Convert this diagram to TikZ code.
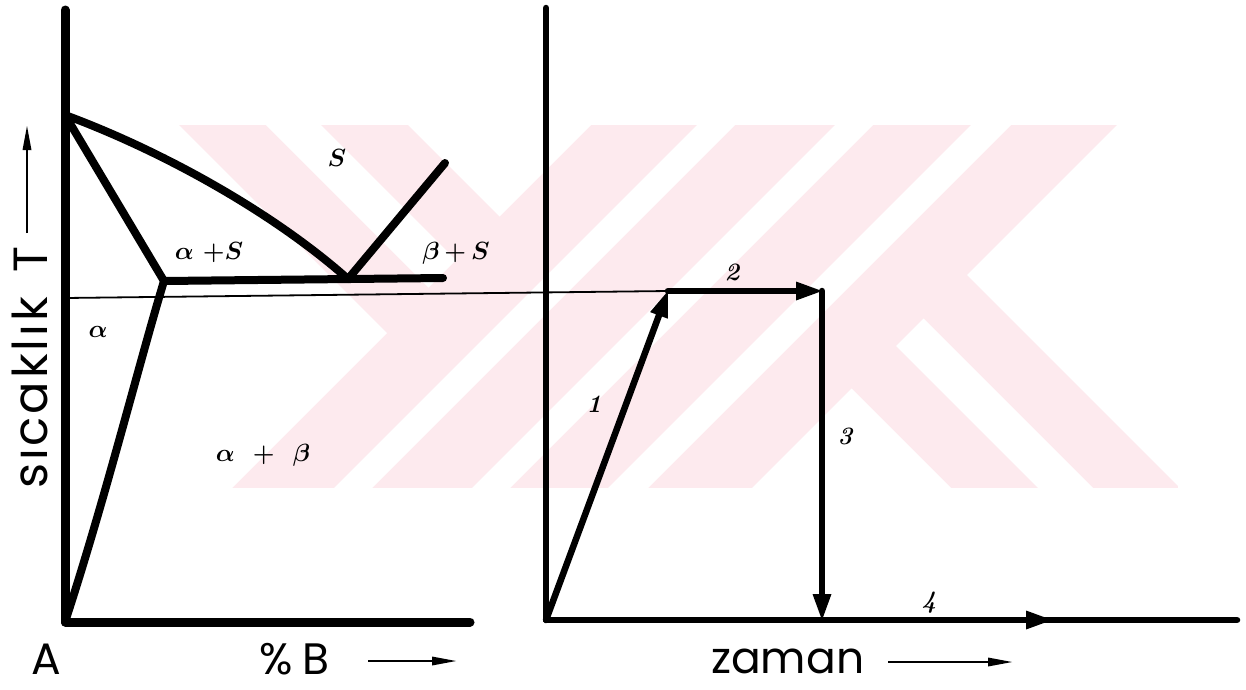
\documentclass[tikz,border=0pt]{standalone}
\usepackage{fontspec}
\newfontfamily\axfont{Poppins}
\newfontfamily\axfontwide[LetterSpace=6]{Poppins}
\usetikzlibrary{arrows.meta}
\definecolor{wmpink}{RGB}{253,234,238}
\tikzset{
  axisline/.style={line width=9pt, line cap=round, line join=round},
  axisright/.style={line width=6.5pt, line cap=round, line join=round},
  phaseline/.style={line width=8pt, line cap=round, line join=round},
  thinline/.style={line width=1.8pt},
  procarrow/.style={line width=6.5pt, line cap=round, -{Triangle[length=26pt,width=19pt,line width=0pt]}},
  labelarrow/.style={line width=2.2pt, -{Triangle[length=24pt,width=9pt,line width=0pt]}},
  phase/.style={inner sep=0pt, font=\fontsize{30}{33}\selectfont\boldmath},
  stepnum/.style={inner sep=0pt, font=\fontsize{25}{28}\selectfont\bfseries\itshape},
  axtext/.style={inner sep=0pt, font=\axfont\fontsize{44}{48}\selectfont},
  ytext/.style={inner sep=0pt, font=\axfontwide\fontsize{48}{52}\selectfont},
  wmwhite/.style={fill=white},
}
\begin{document}
\begin{tikzpicture}[x=1pt,y=-1pt]
\useasboundingbox (0,0) rectangle (1246,689);
\fill[white] (0,0) rectangle (1246,689);
% watermark
\begin{scope}
  \clip (176,125) rectangle (1178,488);
  \fill[wmpink] (176,125) rectangle (1178,488);
  % outer white regions
  \fill[wmwhite] (0,100) -- (154,100) -- (387,333) -- (210,510) -- (0,510) -- cycle;
  \fill[wmwhite] (1142,100) -- (1300,100) -- (1300,510) -- (1202,510) -- (967,275) -- cycle;
  % notches
  \fill[wmwhite] (383,100) -- (616,100) -- (499.5,216.5) -- cycle;
  \fill[wmwhite] (851.5,388.5) -- (973,510) -- (730,510) -- cycle;
  % short stripes
  \fill[wmwhite] (241,100) -- (296,100) -- (456,260) -- (428.5,287.5) -- cycle;
  \fill[wmwhite] (896,346) -- (923.5,318.5) -- (1115,510) -- (1060,510) -- cycle;
  % long stripes
  \fill[wmwhite] (722,100) -- (760,100) -- (350,510) -- (312,510) -- cycle;
  \fill[wmwhite] (860,100) -- (898,100) -- (488,510) -- (450,510) -- cycle;
  \fill[wmwhite] (996,100) -- (1036,100) -- (626,510) -- (586,510) -- cycle;
\end{scope}
% ---------- left: phase diagram ----------
\coordinate (L0) at (65,622);
\coordinate (Ltop) at (65,10);
\coordinate (Lx) at (470,622);
\coordinate (TA) at (65,115);
\coordinate (E) at (348,279);
\coordinate (AS) at (164,281);
\coordinate (Eend) at (443,278);
\coordinate (Bl) at (445,163);
\coordinate (H0) at (65,298);
% ---------- right: process ----------
\coordinate (R0) at (546,620);
\coordinate (Rtop) at (546,8);
\coordinate (Rx) at (1237,620);
\coordinate (P1) at (668,291);
\coordinate (P2) at (822,291);
\coordinate (P3) at (822,620);
\coordinate (P4) at (1052,620);

\draw[thinline] (H0) -- (P1);
\draw[axisline] (Ltop) -- (L0) -- (Lx);
\draw[phaseline] (TA) .. controls (165,152) and (275,214) .. (E);
\draw[phaseline] (TA) -- (AS);
\draw[phaseline] (AS) -- (Eend);
\draw[phaseline] (E) -- (Bl);
\draw[phaseline] (AS) .. controls (140,360) and (105,500) .. (L0);

\draw[axisright] (Rtop) -- (R0) -- (Rx);
\draw[procarrow] (R0) -- (P1);
\draw[procarrow] (P1) -- (P2);
\draw[procarrow] (P2) -- (P3);
\draw[procarrow] (P3) -- (P4);

% phase labels
\node[phase] (lS) at (337,158) {$S$};
\node[phase] (laS) at (209,253) {$\alpha$ $+S$};
\node[phase] (lbS) at (456,253) {$\beta\,{+}\,S$};
\node[phase] (la) at (98,332) {$\alpha$};
\node[phase] (lab) at (263,455) {$\alpha\ \ {+}\ \ \beta$};
% step labels
\node[stepnum] (s1) at (594,404) {1};
\node[stepnum] (s2) at (732,272) {2};
\node[stepnum] (s3) at (845,436) {3};
\node[stepnum] (s4) at (929,603) {4};
% axis texts
\node[axtext, anchor=base] (tA) at (46,674) {A};
\node[axtext, anchor=base west] (tB) at (259,674) {\%\hspace{10pt}B};
\coordinate (bA1) at (368,661);
\coordinate (bA2) at (456,661);
\draw[labelarrow] (bA1) -- (bA2);
\node[axtext, anchor=base west] (tz) at (711,673) {zaman};
\coordinate (zA1) at (888,662);
\coordinate (zA2) at (1012,662);
\draw[labelarrow] (zA1) -- (zA2);
\node[ytext, rotate=90, anchor=base west] (ty) at (47,489) {sıcaklık};
\node[ytext, rotate=90, anchor=base west] (tT) at (47,273) {T};
\coordinate (tA1) at (27,233);
\coordinate (tA2) at (27,126);
\draw[labelarrow] (tA1) -- (tA2);
\end{tikzpicture}
\end{document}
